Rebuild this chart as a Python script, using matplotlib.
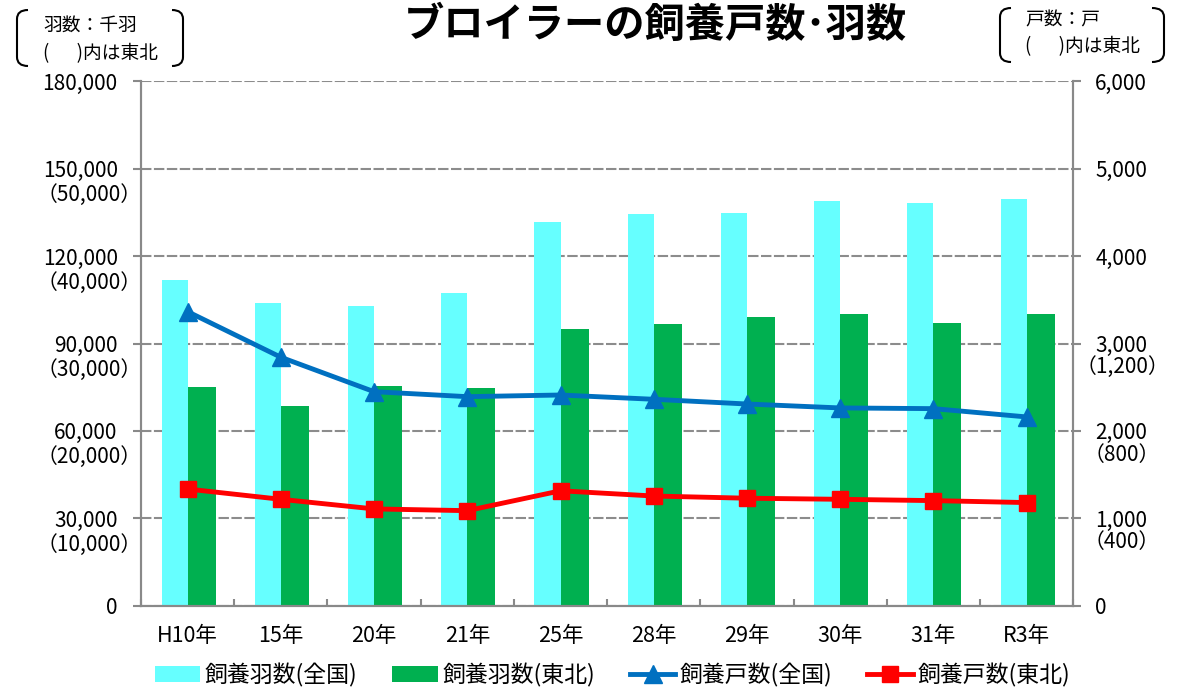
import numpy as np
import matplotlib.pyplot as plt
from matplotlib.path import Path
from matplotlib.patches import PathPatch

plt.rcParams['font.family'] = ['Noto Sans CJK JP', 'DejaVu Sans']

# データ（羽数：千羽、戸数：戸）
years = ['H10年', '15年', '20年', '21年', '25年', '28年', '29年', '30年', '31年', 'R3年']
birds_all = [111800, 103800, 103000, 107300, 131600, 134500, 134900, 138800, 138300, 139600]
birds_tohoku = [24990, 22820, 25180, 24910, 31630, 32240, 33000, 33380, 32350, 33380]
farms_all = [3365, 2843, 2449, 2392, 2411, 2362, 2308, 2263, 2255, 2160]
farms_tohoku = [534, 487, 443, 435, 526, 502, 492, 487, 481, 472]

# 東北は別目盛り（左: 30,000 = (10,000)、右: 1,000 = (400)）
bird_scale = 3
farm_scale = 2.5

left_ticks = [0, 30000, 60000, 90000, 120000, 150000, 180000]
left_sub = ['', '（10,000）', '（20,000）', '（30,000）', '（40,000）', '（50,000）', '']
right_ticks = [0, 1000, 2000, 3000, 4000, 5000, 6000]
right_sub = ['', '（400）', '（800）', '（1,200）', '', '', '']

labels = ['飼養羽数(全国)', '飼養羽数(東北)', '飼養戸数(全国)', '飼養戸数(東北)']

W, H = 1180, 689
grey = '#898989'
fs = 15

fig = plt.figure(figsize=(W / 100, H / 100), dpi=100)
ax = fig.add_axes([0.1195, 0.1209, 0.7901, 0.7610])
ax2 = ax.twinx()

x = np.arange(len(years))
b1 = ax.bar(x, birds_all, width=-0.28, align='edge', color='#66FFFF', zorder=2)
b2 = ax.bar(x, np.array(birds_tohoku) * bird_scale, width=0.30, align='edge',
            color='#00B050', zorder=2)

l1, = ax2.plot(x, farms_all, color='#0070C0', lw=3.5, marker='^', ms=13.5)
l2, = ax2.plot(x, np.array(farms_tohoku) * farm_scale, color='#FF0000', lw=3.5,
               marker='s', ms=12)

ax.set_xlim(-0.5, len(years) - 0.5)
ax.set_ylim(0, 180000)
ax2.set_ylim(0, 6000)

ax.set_yticks(left_ticks)
ax.set_yticklabels([f'{v:,}' for v in left_ticks])
ax2.set_yticks(right_ticks)
ax2.set_yticklabels([f'{v:,}' for v in right_ticks])

ax.set_xticks(x)
ax.set_xticklabels(years)
ax.set_xticks(np.arange(-0.5, len(years), 1), minor=True)
ax.tick_params(axis='x', which='major', length=0, labelsize=15.5, pad=14)
ax.tick_params(axis='x', which='minor', direction='in', length=5, width=1.5, color=grey)
ax.tick_params(axis='y', direction='out', length=5.8, width=1.5, color=grey,
               labelsize=fs, pad=11)
ax2.tick_params(axis='y', direction='out', length=5.8, width=1.5, color=grey,
                labelsize=fs, pad=10)

ax.yaxis.grid(True, color='#8c8c8c', linestyle=(0, (5, 1.2)), linewidth=1.5)
ax.set_axisbelow(True)

for a in (ax, ax2):
    a.spines['top'].set_visible(False)
    for s in ('left', 'right', 'bottom'):
        a.spines[s].set_color(grey)
        a.spines[s].set_linewidth(1.5)

# 東北の目盛り（括弧書き）
for v, s in zip(left_ticks, left_sub):
    if s:
        ax.annotate(s, xy=(0, v), xycoords=ax.get_yaxis_transform(),
                    xytext=(-37.4, -19), textcoords='offset points',
                    ha='center', va='center', fontsize=fs)
for v, s in zip(right_ticks, right_sub):
    if s:
        ax2.annotate(s, xy=(1, v), xycoords=ax2.get_yaxis_transform(),
                     xytext=(35, -17), textcoords='offset points',
                     ha='center', va='center', fontsize=fs)

fig.legend([b1, b2, l1, l2], labels, loc='center', bbox_to_anchor=(0.519, 0.02),
           ncol=4, frameon=False, fontsize=16.5, handlelength=2.0,
           handletextpad=0.2, columnspacing=1.5)

fig.text(0.555, 0.963, 'ブロイラーの飼養戸数･羽数', fontsize=29, fontweight='bold',
         ha='center', va='center')


# 単位の括弧
def px(xp, yp):
    return (xp / W, 1 - yp / H)


def bracket(x0, x1, y0, y1, left=True):
    r = 9
    if left:
        pts = [px(x1, y0), px(x0, y0), px(x0, y0 + r), px(x0, y1 - r), px(x0, y1), px(x1, y1)]
    else:
        pts = [px(x0, y0), px(x1, y0), px(x1, y0 + r), px(x1, y1 - r), px(x1, y1), px(x0, y1)]
    codes = [Path.MOVETO, Path.CURVE3, Path.CURVE3, Path.LINETO, Path.CURVE3, Path.CURVE3]
    fig.add_artist(PathPatch(Path(pts, codes), fill=False, lw=1.5, color='black',
                             transform=fig.transFigure))


bracket(17, 28, 10, 66, True)
bracket(172, 183, 10, 66, False)
fig.text(43 / W, 1 - 25 / H, '羽数：千羽', fontsize=13.5, va='center')
fig.text(43 / W, 1 - 54 / H, '(　  )内は東北', fontsize=13.5, va='center')

bracket(1000, 1011, 8, 62, True)
bracket(1152, 1164, 8, 62, False)
fig.text(1025 / W, 1 - 20 / H, '戸数：戸', fontsize=13.5, va='center')
fig.text(1025 / W, 1 - 47 / H, '(　  )内は東北', fontsize=13.5, va='center')

fig.savefig('out.png', dpi=100)
